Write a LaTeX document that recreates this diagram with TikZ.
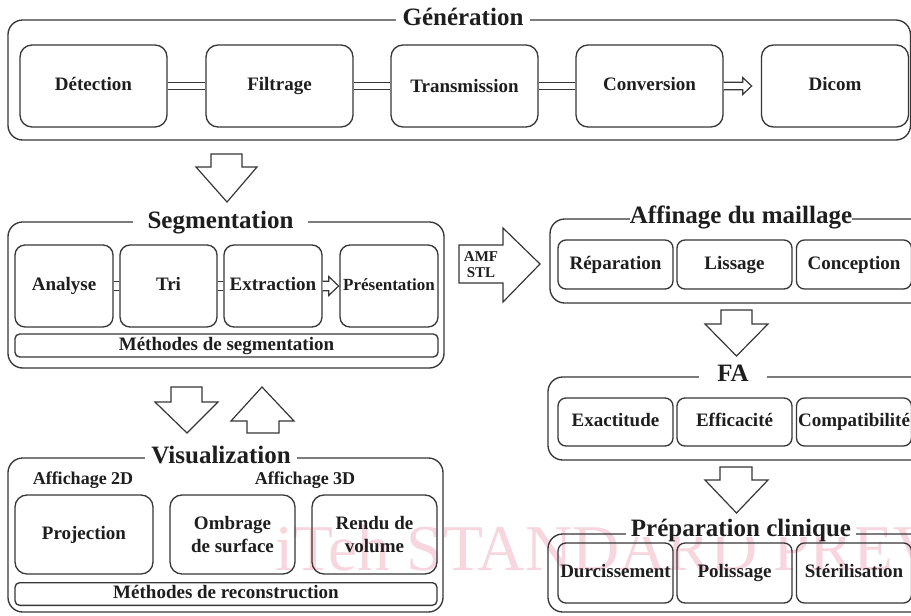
\documentclass[tikz,border=0pt]{standalone}
\usepackage{fontspec}
\setmainfont{Liberation Serif}
\usetikzlibrary{calc}
\definecolor{ln}{RGB}{55,55,55}
\definecolor{txt}{RGB}{30,30,30}
\definecolor{wm}{RGB}{247,214,222}
\newcommand\myboxfont{\fontsize{14.25pt}{17pt}\selectfont\bfseries}
\newcommand\mysmallfont{\fontsize{12.75pt}{15pt}\selectfont\bfseries}
\newcommand\mytitlefont{\fontsize{18.75pt}{22pt}\selectfont\bfseries}
\tikzset{
  frame/.style={draw=ln, line width=1pt, rounded corners=11pt},
  box/.style={draw=ln, line width=1pt, rounded corners=9pt, align=center, inner sep=0pt, font=\myboxfont, text=txt, execute at begin node=\strut},
  mbox/.style={draw=ln, line width=1pt, rounded corners=9pt, align=center, inner sep=0pt, font=\myboxfont, text=txt},
  sbox/.style={box, rounded corners=6pt},
  bar/.style={draw=ln, line width=1pt, rounded corners=3.5pt, inner sep=0pt, font=\myboxfont, text=txt, execute at begin node=\strut},
  ttl/.style={fill=white, font=\mytitlefont, text=txt, inner ysep=1pt, text depth=0pt, anchor=base},
  lbl/.style={font=\fontsize{13.5pt}{16pt}\selectfont\bfseries, text=txt},
  dbl/.style={draw=ln, line width=1pt, double=white, double distance=4.5pt},
  dblw/.style={draw=ln, line width=1pt, double=white, double distance=6pt},
  blk/.style={draw=ln, line width=0.9pt, fill=white, line join=miter},
}
\begin{document}
\begin{tikzpicture}[x=0.75pt,y=-0.75pt]
\useasboundingbox (0,0) rectangle (911,615);
\clip (0,0) rectangle (911,615);
\fill[white] (0,0) rectangle (911,615);

% watermark
\node[anchor=base west, text=wm, font=\fontsize{49pt}{58pt}\selectfont, inner sep=0pt] (wmk) at (275,570) {iTeh STANDARD PREVIEW};

% ---------------- Generation ----------------
\draw[frame] (8,20) rectangle (910.5,140);
\node[ttl, inner xsep=5pt] (tgen) at (463,25.5) {Génération};
\node[box, minimum width=110.25pt, minimum height=61.5pt] (det) at (93.5,86) {Détection};
\node[box, minimum width=110.25pt, minimum height=61.5pt] (fil) at (279.5,86) {Filtrage};
\node[box, minimum width=110.25pt, minimum height=61.5pt] (tra) at (464.5,86) {\raisebox{-1.5pt}{Transmission}};
\node[box, minimum width=110.25pt, minimum height=61.5pt] (con) at (649.5,86) {Conversion};
\node[box, minimum width=110.25pt, minimum height=61.5pt] (dic) at (835,86) {Dicom};
\draw[dbl] (det) -- (fil);
\draw[dbl] (fil) -- (tra);
\draw[dbl] (tra) -- (con);
\draw[blk] ($(con.east)+(0,-3.7)$) -- ++(19,0) -- ++(0,-4.8) -- ($(con.east)+(28,0)$)
  -- ($(con.east)+(19,8.5)$) -- ++(0,-4.8) -- ($(con.east)+(0,3.7)$);

% arrow Generation -> Segmentation
\draw[blk] (211,154) -- (242,154) -- (242,167) -- (257,167) -- (227,202) -- (196,167) -- (211,167) -- cycle;

% ---------------- Segmentation ----------------
\draw[frame] (8,222) rectangle (444,368);
\node[ttl, inner xsep=11pt] (tseg) at (220.5,228) {Segmentation};
\node[box, rounded corners=7.5pt, minimum width=73.5pt, minimum height=61.5pt] (ana) at (64,286) {Analyse};
\node[box, rounded corners=7.5pt, minimum width=72.75pt, minimum height=61.5pt] (tri) at (168.5,286) {Tri};
\node[box, rounded corners=7.5pt, minimum width=73.5pt, minimum height=61.5pt] (ext) at (273,286) {Extraction};
\node[box, rounded corners=7.5pt, minimum width=73.5pt, minimum height=61.5pt, font=\mysmallfont] (pre) at (389,286) {Présentation};
\draw[dblw] (ana) -- (tri);
\draw[dblw] (tri) -- (ext);
\draw[blk] ($(ext.east)+(0,-4.7)$) -- ++(6,0) -- ++(0,-4.8) -- ($(ext.east)+(16,0)$)
  -- ($(ext.east)+(6,9.5)$) -- ++(0,-4.8) -- ($(ext.east)+(0,4.7)$);
\node[bar, minimum width=317.25pt, minimum height=17.25pt] (mseg) at (226.5,345.5) {Méthodes de segmentation};

% arrows Segmentation <-> Visualization
\draw[blk] (171,387) -- (202,387) -- (202,402) -- (218,402) -- (187,433) -- (155,402) -- (171,402) -- cycle;
\draw[blk] (262,387) -- (294,421) -- (279,421) -- (279,433) -- (247,433) -- (247,421) -- (231,421) -- cycle;

% ---------------- Visualization ----------------
\draw[frame] (8,458) rectangle (443,612);
\node[ttl, inner xsep=5pt] (tvis) at (221,463) {Visualization};
\node[lbl] (a2d) at (83,480) {Affichage 2D};
\node[lbl] (a3d) at (305,480) {Affichage 3D};
\node[box, minimum width=103.5pt, minimum height=59.25pt] (proj) at (84,534.5) {Projection};
\node[mbox, minimum width=93.75pt, minimum height=59.25pt] (omb) at (232.5,534.5) {Ombrage\\de surface};
\node[mbox, minimum width=93.75pt, minimum height=59.25pt] (ren) at (374.5,534.5) {Rendu de\\volume};
\node[bar, minimum width=316.5pt, minimum height=16.5pt] (mrec) at (226,594) {Méthodes de reconstruction};

% AMF / STL arrow
\draw[blk] (459,245) -- (503,245) -- (503,228) -- (540,264) -- (503,302) -- (503,283) -- (459,283) -- cycle;
\node[font=\fontsize{11.25pt}{12pt}\selectfont\bfseries, text=txt, align=center] (amf) at (481,265) {AMF\\STL};

% ---------------- Affinage du maillage ----------------
\draw[frame] (550,219) rectangle (930,303);
\node[ttl, inner xsep=0pt] (taff) at (741,223) {Affinage du maillage};
\node[sbox, minimum width=86.25pt, minimum height=36.75pt] (rep) at (615.5,264.5) {Réparation};
\node[sbox, minimum width=86.25pt, minimum height=36.75pt] (lis) at (734.5,264.5) {Lissage};
\node[sbox, minimum width=86.25pt, minimum height=36.75pt] (cnc) at (854,264.5) {Conception};

\draw[blk] (721,310) -- (752,310) -- (752,324) -- (768,324) -- (736.5,356) -- (705,324) -- (721,324) -- cycle;

% ---------------- FA ----------------
\draw[frame] (548,377) rectangle (930,460);
\node[ttl, inner xsep=14pt] (tfa) at (733,381) {FA};
\node[sbox, minimum width=86.25pt, minimum height=36pt] (exa) at (615.5,422) {Exactitude};
\node[sbox, minimum width=86.25pt, minimum height=36pt] (eff) at (734.5,422) {Efficacité};
\node[sbox, minimum width=86.25pt, minimum height=36pt] (cmp) at (854,422) {Compatibilité};

\draw[blk] (720,467) -- (752,467) -- (752,480) -- (768,480) -- (736.5,513) -- (705,480) -- (720,480) -- cycle;

% ---------------- Preparation clinique ----------------
\draw[frame] (548,534) rectangle (930,612);
\node[ttl, inner xsep=4pt] (tprep) at (741,536) {Préparation clinique};
\node[sbox, minimum width=86.25pt, minimum height=45pt] (dur) at (615.5,573) {Durcissement};
\node[sbox, minimum width=86.25pt, minimum height=45pt] (pol) at (734.5,573) {Polissage};
\node[sbox, minimum width=86.25pt, minimum height=45pt] (ste) at (854,573) {Stérilisation};
\end{tikzpicture}
\end{document}
